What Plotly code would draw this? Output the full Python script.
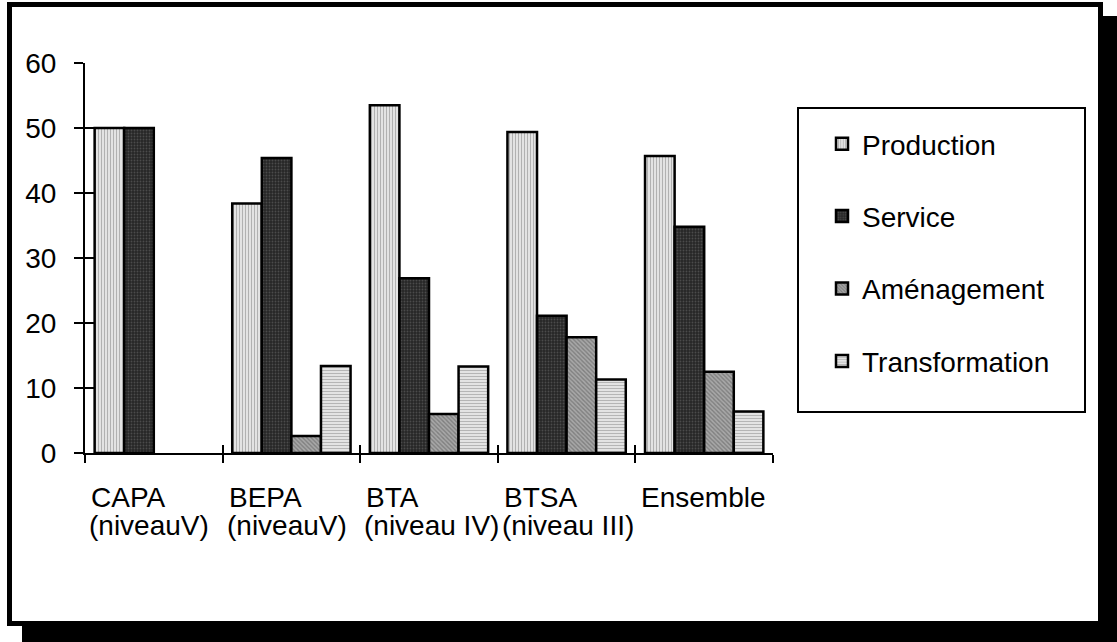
import plotly.graph_objects as go

categories = ["CAPA", "BEPA", "BTA", "BTSA", "Ensemble"]
label_line1 = ["CAPA", "BEPA", "BTA", "BTSA", "Ensemble"]
label_line2 = ["(niveauV)", "(niveauV)", "(niveau IV)", "(niveau III)", ""]

production = [50.0, 38.4, 53.5, 49.4, 45.7]
service = [50.0, 45.4, 26.9, 21.1, 34.8]
amenagement = [None, 2.6, 6.0, 17.8, 12.5]
transformation = [None, 13.4, 13.3, 11.3, 6.4]

series_names = ["Production", "Service", "Aménagement", "Transformation"]
series_values = [production, service, amenagement, transformation]
y_ticks = [0, 10, 20, 30, 40, 50, 60]

FONT = "Liberation Sans, Arial, Helvetica, sans-serif"
FS = 28

patterns = [
    dict(shape="|", fgcolor="#6e6e6e", bgcolor="#f4f4f4", size=3, solidity=0.5),
    dict(shape=".", fgcolor="#707070", bgcolor="#262626", size=3, solidity=0.3),
    dict(shape="\\", fgcolor="#555555", bgcolor="#a8a8a8", size=3, solidity=0.45),
    dict(shape="-", fgcolor="#7e7e7e", bgcolor="#ececec", size=3, solidity=0.45),
]

# plot area pixel geometry (for paper-coordinate conversion of decorations)
W, H = 1117, 642
L, R, T, B = 85, 344, 63, 189
PW = W - L - R
PH = H - T - B


def px(x):
    return (x - L) / PW


def py(y):
    return (H - B - y) / PH


xpos = list(range(len(categories)))

fig = go.Figure()
for name, vals, pat in zip(series_names, series_values, patterns):
    fig.add_trace(go.Bar(
        x=xpos, y=vals, name=name, legendgroup=name,
        marker=dict(color=pat["bgcolor"], pattern=pat,
                    line=dict(color="black", width=2.5)),
        hoverinfo="skip",
    ))

# helper trace so the overlay axes (inner tick halves) are drawn
fig.add_trace(go.Scatter(x=[None], y=[None], xaxis="x2", yaxis="y2",
                         showlegend=False, hoverinfo="skip"))

boundaries = [i - 0.5 for i in range(len(categories) + 1)]

fig.update_layout(
    width=W, height=H,
    margin=dict(l=L, r=R, t=T, b=B),
    paper_bgcolor="white", plot_bgcolor="white",
    font=dict(family=FONT, size=FS, color="black"),
    barmode="group", bargap=0.14, bargroupgap=0,
    showlegend=True,
    legend=dict(x=px(822), y=py(119), xanchor="left", yanchor="top",
                font=dict(family=FONT, size=FS, color="black"),
                bgcolor="rgba(0,0,0,0)", borderwidth=0,
                tracegroupgap=33, traceorder="grouped"),
    xaxis=dict(range=[-0.5, len(categories) - 0.5], tickvals=boundaries,
               showticklabels=False, ticks="outside", ticklen=8, tickwidth=2,
               tickcolor="black", showline=True, linecolor="black", linewidth=2,
               showgrid=False, zeroline=False, fixedrange=True),
    yaxis=dict(range=[0, 60], tickvals=y_ticks, ticks="outside", ticklen=9,
               tickwidth=2, tickcolor="black", showline=True, linecolor="black",
               linewidth=2, showgrid=False, zeroline=False, ticklabelstandoff=12,
               tickfont=dict(family=FONT, size=FS, color="black"), fixedrange=True),
    xaxis2=dict(overlaying="x", anchor="y2", range=[-0.5, len(categories) - 0.5],
                tickvals=boundaries, showticklabels=False, ticks="inside",
                ticklen=8, tickwidth=2, tickcolor="black", showline=False,
                showgrid=False, zeroline=False, fixedrange=True),
    yaxis2=dict(overlaying="y", anchor="x2", range=[0, 60], tickvals=y_ticks,
                showticklabels=False, ticks="inside", ticklen=9, tickwidth=2,
                tickcolor="black", showline=False, showgrid=False,
                zeroline=False, fixedrange=True),
)

# category labels (two lines, left aligned at the category start)
annotations = []
for i, (l1, l2) in enumerate(zip(label_line1, label_line2)):
    annotations.append(dict(x=i - 0.5, y=py(497), xref="x", yref="paper",
                            text=l1, showarrow=False, xanchor="left",
                            yanchor="middle", xshift=4,
                            font=dict(family=FONT, size=FS, color="black")))
    if l2:
        annotations.append(dict(x=i - 0.5, y=py(525), xref="x", yref="paper",
                                text=l2, showarrow=False, xanchor="left",
                                yanchor="middle", xshift=2,
                                font=dict(family=FONT, size=FS, color="black")))
fig.update_layout(annotations=annotations)

# frame with drop shadow, and legend box
shapes = [
    dict(type="rect", xref="paper", yref="paper", layer="below",
         x0=px(22), x1=px(1117), y0=py(16), y1=py(642),
         fillcolor="black", line=dict(width=0)),
    dict(type="rect", xref="paper", yref="paper", layer="below",
         x0=px(9.5), x1=px(1100.5), y0=py(4.5), y1=py(623.5),
         fillcolor="white", line=dict(color="black", width=5)),
    dict(type="rect", xref="paper", yref="paper", layer="above",
         x0=px(798), x1=px(1085), y0=py(108), y1=py(412),
         fillcolor="rgba(0,0,0,0)", line=dict(color="black", width=2)),
]
fig.update_layout(shapes=shapes)

fig.write_html(
    "out.html",
    config={"displayModeBar": False},
    post_script="document.body.style.margin='0px';document.body.style.overflow='hidden';",
)
